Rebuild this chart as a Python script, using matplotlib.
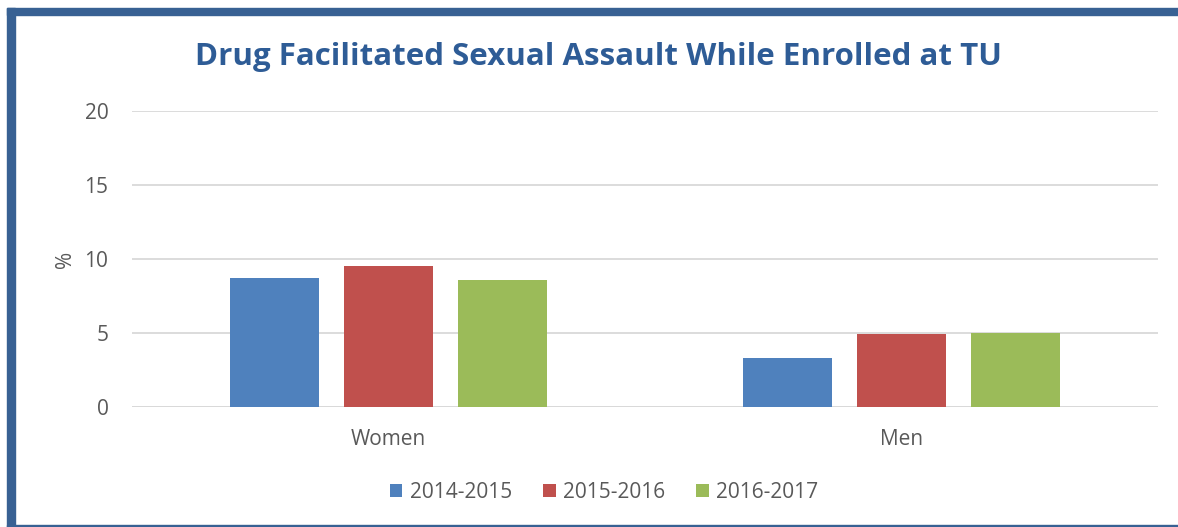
import matplotlib
matplotlib.use("Agg")
import matplotlib.pyplot as plt
from matplotlib.patches import Rectangle
import numpy as np

categories = ["Women", "Men"]
series_labels = ["2014-2015", "2015-2016", "2016-2017"]
values_2014 = [8.7, 3.3]
values_2015 = [9.5, 4.9]
values_2016 = [8.6, 5.0]
colors = ["#4F81BD", "#C0504D", "#9BBB59"]
yticks = [0, 5, 10, 15, 20]

plt.rcParams['font.family'] = ['Open Sans', 'DejaVu Sans']

fig = plt.figure(figsize=(11.78, 5.27), dpi=100)
W, H = 1178, 527

# frame
frame_col = "#386193"
fig.patches.append(Rectangle((7 / W, 0), 8 / W, 1 - 8 / H, transform=fig.transFigure,
                             color=frame_col, zorder=0))
fig.patches.append(Rectangle((7 / W, 1 - 15 / H), 1 - 7 / W, 7 / H, transform=fig.transFigure,
                             color=frame_col, zorder=0))
fig.patches.append(Rectangle((7 / W, 0), 1 - 7 / W, 2 / H, transform=fig.transFigure,
                             color=frame_col, zorder=0))

ax = fig.add_axes([132 / W, 1 - 407 / H, (1158 - 132) / W, (407 - 111) / H])
x = np.arange(len(categories))
offsets = [-0.222, 0.0, 0.222]
width = 0.1735
for vals, off, c, lab in zip([values_2014, values_2015, values_2016], offsets, colors, series_labels):
    ax.bar(x + off, vals, width=width, color=c, label=lab, zorder=3)

ax.set_xlim(-0.5, 1.5)
ax.set_ylim(0, 20)
ax.set_yticks(yticks)
ax.set_xticks(x)
ax.set_xticklabels(categories)
ax.yaxis.grid(True, color="#D9D9D9", linewidth=1.3, zorder=0)
for s in ax.spines.values():
    s.set_visible(False)
ax.axhline(0, color="#D9D9D9", linewidth=1.3, zorder=2)
ax.tick_params(axis='both', length=0, colors="#595959", labelsize=15)
ax.tick_params(axis='y', pad=17)
ax.tick_params(axis='x', pad=16)
ax.set_ylabel("%", color="#595959", fontsize=15)
ax.yaxis.set_label_coords(-0.055, 0.5)

fig.text(598 / W, 1 - 57 / H, "Drug Facilitated Sexual Assault While Enrolled at TU",
         ha="center", va="center", fontsize=22.5, fontweight="bold", color="#2E5C96")

leg = fig.legend(loc="center", bbox_to_anchor=(604 / W, 1 - 492 / H), ncol=3, frameon=False,
                 fontsize=15, handlelength=0.6, handleheight=0.6, columnspacing=1.5,
                 handletextpad=0.35, labelcolor="#595959")

fig.savefig("out.png", dpi=100)
